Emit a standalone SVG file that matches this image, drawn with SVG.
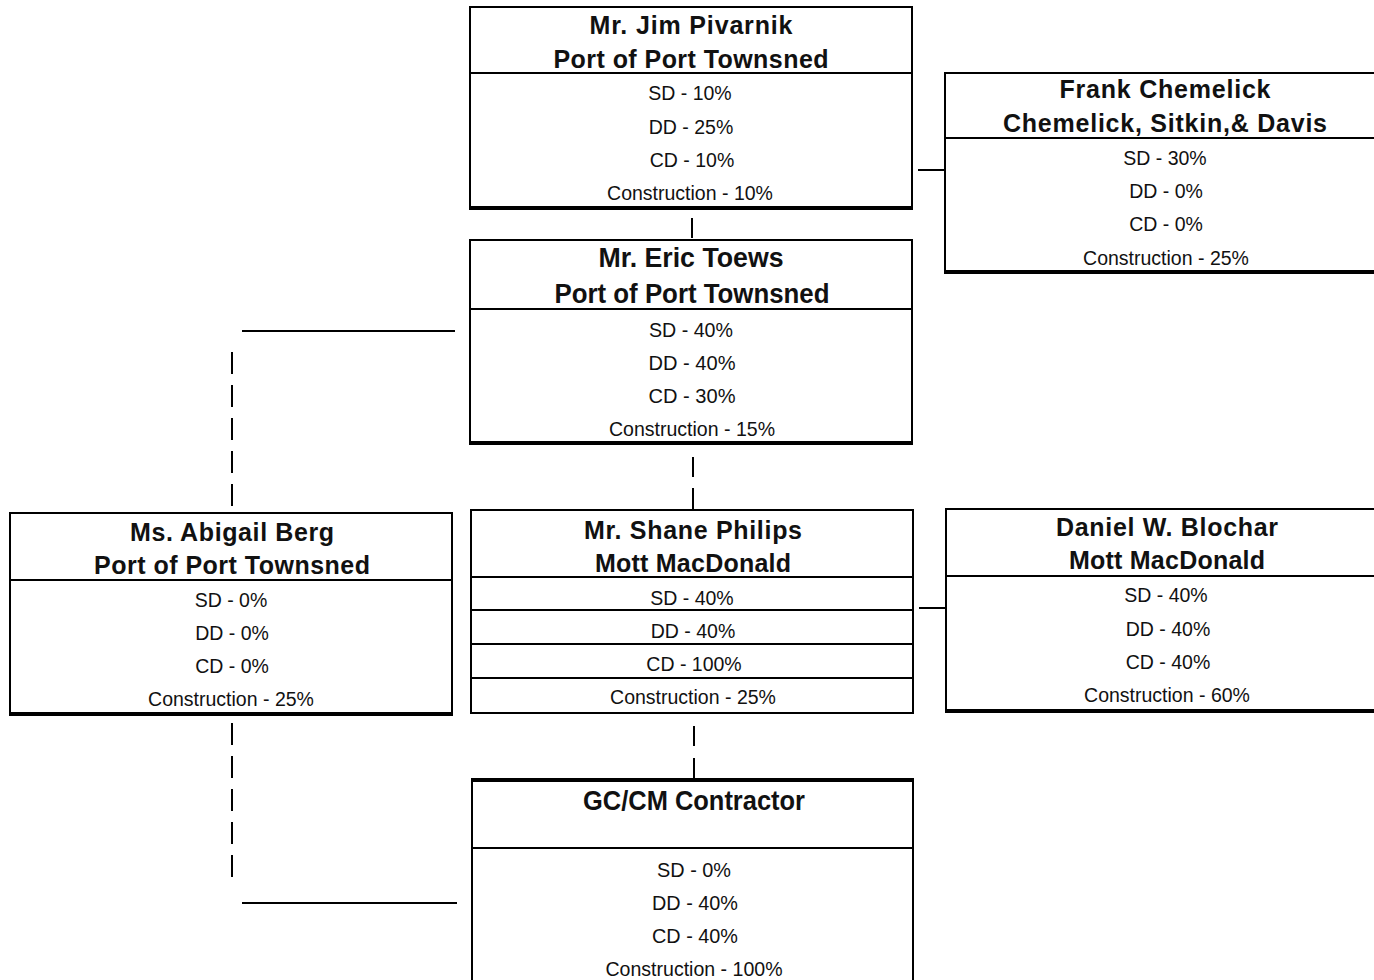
<svg xmlns="http://www.w3.org/2000/svg" width="1374" height="980" viewBox="0 0 1374 980">
<style>
.bg{fill:#fff}
.box{fill:#fff;stroke:#000;stroke-width:2}
.div{stroke:#000;stroke-width:2}
.sh{stroke:#000;stroke-width:4}
.t{font-family:"Liberation Sans",Arial,sans-serif;font-weight:bold;font-size:25px;text-anchor:middle;fill:#111}
.tn{font-family:"Liberation Sans",Arial,sans-serif;font-weight:bold;font-size:27px;text-anchor:middle;fill:#111}
.b{font-family:"Liberation Sans",Arial,sans-serif;font-size:19.5px;text-anchor:middle;fill:#111}
.bn{font-family:"Liberation Sans",Arial,sans-serif;font-size:21px;text-anchor:middle;fill:#111}
.c{stroke:#000;stroke-width:2;fill:none}
.d{stroke:#000;stroke-width:2;fill:none;stroke-dasharray:22 11}
</style>
<rect class="bg" x="0" y="0" width="1374" height="980"/>
<g id="connectors">
<line class="c" x1="692" y1="218" x2="692" y2="238"/>
<line class="c" x1="918" y1="170" x2="945" y2="170"/>
<line class="c" x1="242" y1="331" x2="455" y2="331"/>
<line class="d" x1="232" y1="352" x2="232" y2="512"/>
<line class="c" x1="693" y1="457" x2="693" y2="477"/>
<line class="c" x1="693" y1="488" x2="693" y2="510"/>
<line class="c" x1="919" y1="608" x2="946" y2="608"/>
<line class="c" x1="694" y1="726" x2="694" y2="746"/>
<line class="c" x1="694" y1="758" x2="694" y2="779"/>
<line class="d" x1="232" y1="723" x2="232" y2="882"/>
<line class="c" x1="242" y1="903" x2="457" y2="903"/>
</g>
<g id="jim">
<rect class="box" x="470" y="7" width="442" height="201"/>
<line class="sh" x1="469" y1="208" x2="913" y2="208"/>
<line class="div" x1="470" y1="73" x2="912" y2="73"/>
<text class="t" x="691" y="34" textLength="203" lengthAdjust="spacing">Mr. Jim Pivarnik</text>
<text class="t" x="691" y="68" textLength="275" lengthAdjust="spacing">Port of Port Townsned</text>
<text class="b" x="690" y="100">SD - 10%</text>
<text class="b" x="691" y="134">DD - 25%</text>
<text class="b" x="692" y="167">CD - 10%</text>
<text class="b" x="690" y="200">Construction - 10%</text>
</g>
<g id="frank">
<rect class="box" x="945" y="73" width="440" height="199"/>
<line class="sh" x1="944" y1="272" x2="1380" y2="272"/>
<line class="div" x1="945" y1="138" x2="1380" y2="138"/>
<text class="t" x="1165" y="98" textLength="211" lengthAdjust="spacing">Frank Chemelick</text>
<text class="t" x="1165" y="132" textLength="324" lengthAdjust="spacing">Chemelick, Sitkin,&amp; Davis</text>
<text class="b" x="1165" y="165">SD - 30%</text>
<text class="b" x="1166" y="198">DD - 0%</text>
<text class="b" x="1166" y="231">CD - 0%</text>
<text class="b" x="1166" y="265">Construction - 25%</text>
</g>
<g id="eric">
<rect class="box" x="470" y="240" width="442" height="203"/>
<line class="sh" x1="469" y1="443" x2="913" y2="443"/>
<line class="div" x1="470" y1="309" x2="912" y2="309"/>
<text class="tn" x="691" y="267" textLength="185" lengthAdjust="spacingAndGlyphs">Mr. Eric Toews</text>
<text class="tn" x="692" y="303" textLength="275" lengthAdjust="spacingAndGlyphs">Port of Port Townsned</text>
<text class="bn" x="691" y="337" textLength="84" lengthAdjust="spacingAndGlyphs">SD - 40%</text>
<text class="bn" x="692" y="370" textLength="87" lengthAdjust="spacingAndGlyphs">DD - 40%</text>
<text class="bn" x="692" y="403" textLength="87" lengthAdjust="spacingAndGlyphs">CD - 30%</text>
<text class="bn" x="692" y="436" textLength="166" lengthAdjust="spacingAndGlyphs">Construction - 15%</text>
</g>
<g id="abigail">
<rect class="box" x="10" y="513" width="442" height="201"/>
<line class="sh" x1="9" y1="714" x2="453" y2="714"/>
<line class="div" x1="10" y1="580" x2="452" y2="580"/>
<text class="t" x="232" y="541" textLength="204" lengthAdjust="spacing">Ms. Abigail Berg</text>
<text class="t" x="232" y="574" textLength="276" lengthAdjust="spacing">Port of Port Townsned</text>
<text class="b" x="231" y="607">SD - 0%</text>
<text class="b" x="232" y="640">DD - 0%</text>
<text class="b" x="232" y="673">CD - 0%</text>
<text class="b" x="231" y="706">Construction - 25%</text>
</g>
<g id="shane">
<rect class="box" x="471" y="510" width="442" height="203"/>
<line class="div" x1="471" y1="577" x2="913" y2="577"/>
<line class="div" x1="471" y1="610" x2="913" y2="610"/>
<line class="div" x1="471" y1="644" x2="913" y2="644"/>
<line class="div" x1="471" y1="678" x2="913" y2="678"/>
<text class="t" x="693" y="539" textLength="218" lengthAdjust="spacing">Mr. Shane Philips</text>
<text class="t" x="693" y="572" textLength="196" lengthAdjust="spacing">Mott MacDonald</text>
<text class="b" x="692" y="605">SD - 40%</text>
<text class="b" x="693" y="638">DD - 40%</text>
<text class="b" x="694" y="671">CD - 100%</text>
<text class="b" x="693" y="704">Construction - 25%</text>
</g>
<g id="daniel">
<rect class="box" x="946" y="509" width="440" height="202"/>
<line class="sh" x1="945" y1="711" x2="1380" y2="711"/>
<line class="div" x1="946" y1="576" x2="1380" y2="576"/>
<text class="t" x="1167" y="536" textLength="222" lengthAdjust="spacing">Daniel W. Blochar</text>
<text class="t" x="1167" y="569" textLength="196" lengthAdjust="spacing">Mott MacDonald</text>
<text class="b" x="1166" y="602">SD - 40%</text>
<text class="b" x="1168" y="636">DD - 40%</text>
<text class="b" x="1168" y="669">CD - 40%</text>
<text class="b" x="1167" y="702">Construction - 60%</text>
</g>
<g id="gccm">
<rect class="box" x="472" y="779" width="441" height="210"/>
<line class="sh" x1="471" y1="780" x2="914" y2="780"/>
<line class="div" x1="472" y1="848" x2="913" y2="848"/>
<text class="tn" x="694" y="810" textLength="222" lengthAdjust="spacingAndGlyphs">GC/CM Contractor</text>
<text class="bn" x="694" y="877" textLength="74" lengthAdjust="spacingAndGlyphs">SD - 0%</text>
<text class="bn" x="695" y="910" textLength="86" lengthAdjust="spacingAndGlyphs">DD - 40%</text>
<text class="bn" x="695" y="943" textLength="86" lengthAdjust="spacingAndGlyphs">CD - 40%</text>
<text class="bn" x="694" y="976" textLength="177" lengthAdjust="spacingAndGlyphs">Construction - 100%</text>
</g>
</svg>
